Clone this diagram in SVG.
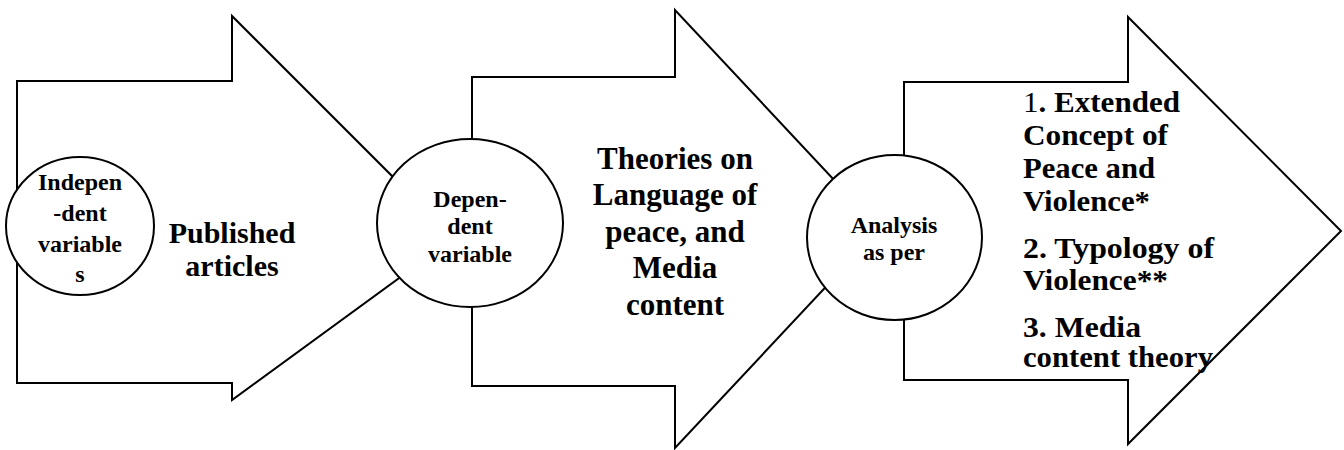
<svg xmlns="http://www.w3.org/2000/svg" width="1344" height="450" viewBox="0 0 1344 450">
<style>
.shape{fill:#fff;stroke:#000;stroke-width:2;stroke-linejoin:miter}
.t{font-family:"Liberation Serif","Times New Roman",serif;font-weight:bold;fill:#000}
.c{font-size:24px;text-anchor:middle}
.m{font-size:31px;text-anchor:middle}
.p{font-size:30px;text-anchor:middle}
.r{font-size:29px}
.n{font-weight:normal}
</style>
<rect width="1344" height="450" fill="#fff"/>
<g id="arrow1">
<polygon class="shape" points="17,81 232,81 232,16 454,238 232,400 232,383 17,383"/>
<text class="t p"><tspan x="232" y="243">Published</tspan><tspan x="232" y="276">articles</tspan></text>
</g>
<g id="arrow2">
<polygon class="shape" points="472,77 675,77 675,10 880,229 675,448 675,386 472,386"/>
<text class="t m"><tspan x="675" y="169">Theories on</tspan><tspan x="675" y="205">Language of</tspan><tspan x="675" y="242">peace, and</tspan><tspan x="675" y="278">Media</tspan><tspan x="675" y="315">content</tspan></text>
</g>
<g id="arrow3">
<polygon class="shape" points="904,82 1128,82 1128,17 1341,231 1128,444 1128,380 904,380"/>
<g class="t r">
<text x="1023" y="112" textLength="157" lengthAdjust="spacingAndGlyphs"><tspan class="n">1</tspan>. Extended</text>
<text x="1023" y="145" textLength="145" lengthAdjust="spacingAndGlyphs">Concept of</text>
<text x="1023" y="178" textLength="132" lengthAdjust="spacingAndGlyphs">Peace and</text>
<text x="1023" y="211" textLength="127" lengthAdjust="spacingAndGlyphs">Violence*</text>
<text x="1023" y="258" textLength="191" lengthAdjust="spacingAndGlyphs">2. Typology of</text>
<text x="1023" y="290" textLength="145" lengthAdjust="spacingAndGlyphs">Violence**</text>
<text x="1023" y="337" textLength="118" lengthAdjust="spacingAndGlyphs">3. Media</text>
<text x="1023" y="367" textLength="190" lengthAdjust="spacingAndGlyphs">content theory</text>
</g>
</g>
<g id="connectors"/>
<g id="circle1">
<ellipse class="shape" cx="80" cy="226" rx="74" ry="69"/>
<text class="t c"><tspan x="80" y="190">Indepen</tspan><tspan x="80" y="221">-dent</tspan><tspan x="80" y="252">variable</tspan><tspan x="80" y="282">s</tspan></text>
</g>
<g id="circle2">
<ellipse class="shape" cx="470" cy="223" rx="93" ry="84"/>
<text class="t c"><tspan x="470" y="207">Depen-</tspan><tspan x="470" y="234">dent</tspan><tspan x="470" y="262">variable</tspan></text>
</g>
<g id="circle3">
<ellipse class="shape" cx="894.5" cy="237.5" rx="87.5" ry="82.5"/>
<text class="t c"><tspan x="894" y="233">Analysis</tspan><tspan x="894" y="260">as per</tspan></text>
</g>
</svg>
